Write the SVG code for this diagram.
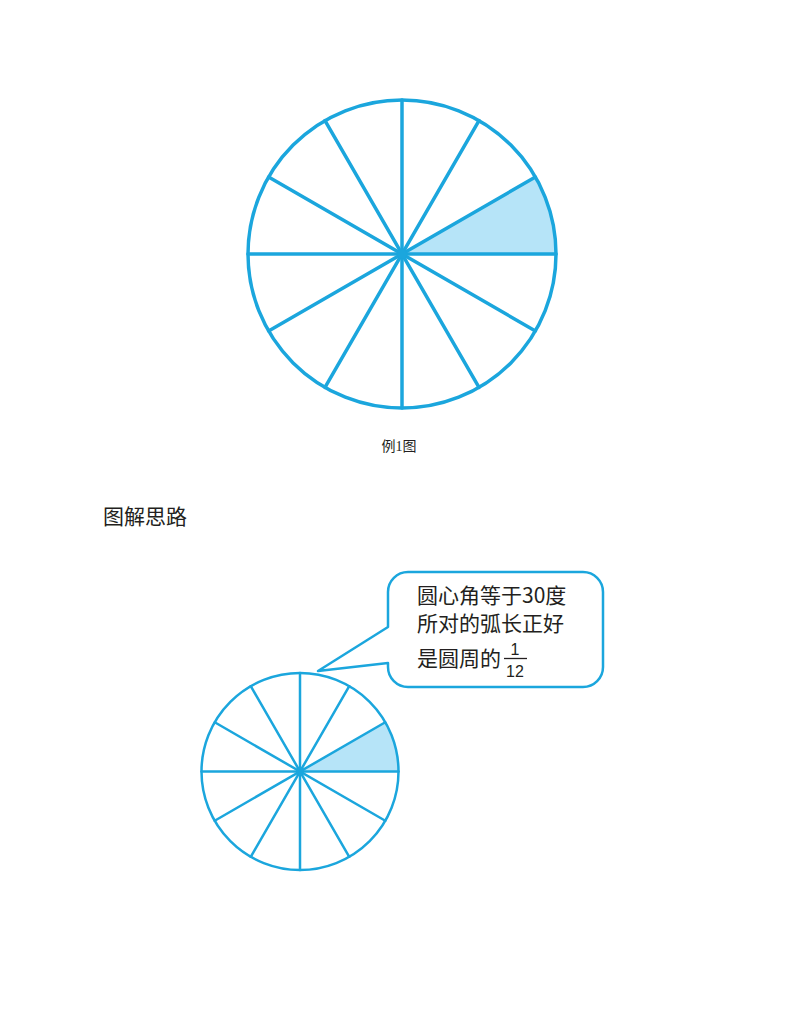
<svg xmlns="http://www.w3.org/2000/svg" width="800" height="1035" viewBox="0 0 800 1035">
<style>
.ln{stroke:#1ba6dd;fill:none;stroke-linecap:round;stroke-linejoin:round}
.sh{fill:#b6e4f8;stroke:none}
.dot{fill:#1ba6dd}
.cn{font-family:"Noto Sans CJK SC","Noto Sans",sans-serif;fill:#231f20}
.fr{font-family:"Liberation Sans",sans-serif;fill:#231f20}
.sf{font-family:"Liberation Serif","Noto Sans CJK SC",serif;fill:#231f20}
</style>
<rect width="800" height="1035" fill="#ffffff"/>
<g id="circle1">
<path class="sh" d="M402 254 L556 254 A154 154 0 0 0 535.4 177 Z"/>
<circle class="ln" cx="402" cy="254" r="154" stroke-width="3.5"/>
<g class="ln" stroke-width="3.5">
<line x1="248" y1="254" x2="556" y2="254"/>
<line x1="535.4" y1="177" x2="268.6" y2="331"/>
<line x1="479" y1="120.6" x2="325" y2="387.4"/>
<line x1="402" y1="100" x2="402" y2="408"/>
<line x1="325" y1="120.6" x2="479" y2="387.4"/>
<line x1="268.6" y1="177" x2="535.4" y2="331"/>
</g>
<circle class="dot" cx="402" cy="254" r="5"/>
</g>
<text id="caption" class="sf" x="399" y="451" font-size="14" text-anchor="middle">例1图</text>
<text id="title" class="cn" x="103" y="524" font-size="21">图解思路</text>
<g id="circle2">
<path class="sh" d="M300 771.5 L398.5 771.5 A98.5 98.5 0 0 0 385.3 722.25 Z"/>
<circle class="ln" cx="300" cy="771.5" r="98.5" stroke-width="2.5"/>
<g class="ln" stroke-width="2.5">
<line x1="201.5" y1="771.5" x2="398.5" y2="771.5"/>
<line x1="385.3" y1="722.25" x2="214.7" y2="820.75"/>
<line x1="349.25" y1="686.2" x2="250.75" y2="856.8"/>
<line x1="300" y1="673" x2="300" y2="870"/>
<line x1="250.75" y1="686.2" x2="349.25" y2="856.8"/>
<line x1="214.7" y1="722.25" x2="385.3" y2="820.75"/>
</g>
<circle class="dot" cx="300" cy="771.5" r="4"/>
</g>
<g id="callout">
<path d="M408 572 H583 A20 20 0 0 1 603 592 V667 A20 20 0 0 1 583 687 H408 A20 20 0 0 1 388 667 V663 L318 671 L388 627 V592 A20 20 0 0 1 408 572 Z" fill="#ffffff" stroke="#1ba6dd" stroke-width="2.5" stroke-linejoin="round"/>
<text class="cn" font-size="21">
<tspan x="417" y="603">圆心角等于30度</tspan>
<tspan x="417" y="631">所对的弧长正好</tspan>
<tspan x="417" y="666">是圆周的</tspan>
</text>
<text class="fr" font-size="16" x="515" y="655" text-anchor="middle">1</text>
<line x1="504" y1="658.5" x2="527" y2="658.5" stroke="#231f20" stroke-width="1.3"/>
<text class="fr" font-size="16" x="515" y="677" text-anchor="middle">12</text>
</g>
</svg>
